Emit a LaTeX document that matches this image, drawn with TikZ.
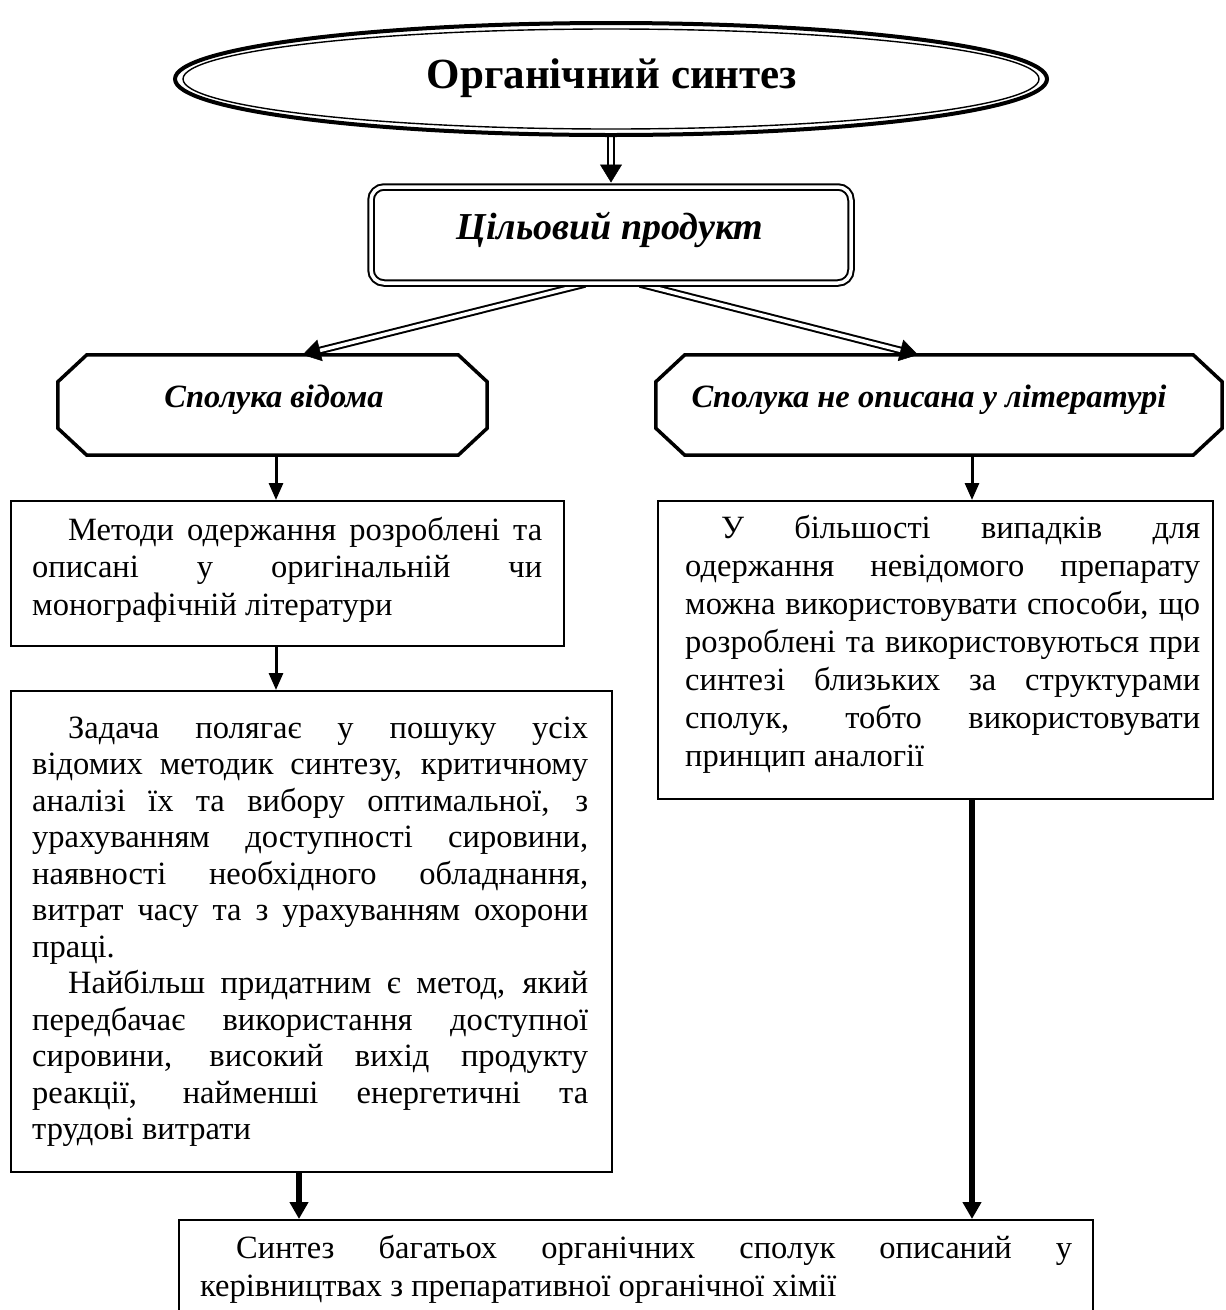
\documentclass[tikz,border=0pt]{standalone}
\usepackage{fontspec}
\setmainfont{Liberation Serif}
\usetikzlibrary{arrows.meta,calc,backgrounds,shapes.geometric}

\newcommand\bodyfont{\fontsize{32.5}{37.5}\selectfont}
% justified line and last (flush-left) line of a paragraph
\newcommand\jline[1]{\noindent\makebox[\linewidth][s]{\spaceskip=0pt\xspaceskip=0pt #1}\par}
\newcommand\lline[1]{\noindent{\spaceskip=0pt\xspaceskip=0pt #1}\par}
\newcommand\ind{\hspace*{36pt}}
% octagon drawn around a rectangular node
\newcommand\octagon[1]{%
  \draw[octline] ([xshift=29pt]#1.north west) -- ([xshift=-29pt]#1.north east)
    -- ([yshift=-27pt]#1.north east) -- ([yshift=27pt]#1.south east)
    -- ([xshift=-29pt]#1.south east) -- ([xshift=29pt]#1.south west)
    -- ([yshift=27pt]#1.south west) -- ([yshift=-27pt]#1.north west) -- cycle;}

\begin{document}
\begin{tikzpicture}[x=1pt,y=-1pt,
  box/.style={draw, line width=1.6pt, inner sep=0, anchor=north west},
  para/.style={inner sep=0, anchor=base west, font=\bodyfont},
  octline/.style={line width=3.5pt, line join=miter},
  octarea/.style={inner sep=0, minimum height=100},
  thinarrow/.style={line width=3pt, -{Triangle[length=17pt,width=14pt]}},
  thickarrow/.style={line width=6pt, -{Triangle[length=17pt,width=18pt]}},
  dblline/.style={double, line width=2pt, double distance=3.5pt},
  dbltip/.style={line width=0.5pt, -{Triangle[length=18pt,width=22pt]}},
]
\useasboundingbox (0,0) rectangle (1226,1310);

% title ellipse: thick outer line, thin inner line
\node[draw, ellipse, line width=4pt, minimum width=872, minimum height=112, inner sep=0] (title) at (611,79) {};
\draw[line width=1.4pt] (title.center) ellipse [x radius=428, y radius=50];
\node[anchor=base, inner sep=0, font=\fontsize{43}{50}\selectfont\bfseries] (titletext) at (612,88) {Органічний синтез};

% target product
\node[draw, dblline, rounded corners=13pt, minimum width=480, minimum height=96, inner sep=0] (goal) at (611,235) {};
\node[anchor=base, inner sep=0, font=\fontsize{38}{44}\selectfont\bfseries\itshape] (goaltext) at (610,239) {Цільовий продукт};

% two branches
\node[octarea, minimum width=429] (known) at (272.5,405) {};
\octagon{known}
\node[anchor=base, inner sep=0, font=\fontsize{32.5}{38}\selectfont\bfseries\itshape] (knowntext) at (274,407) {Сполука відома};

\node[octarea, minimum width=566] (unknown) at (939,405) {};
\octagon{unknown}
\node[anchor=base, inner sep=0, font=\fontsize{32.5}{38}\selectfont\bfseries\itshape] (unknowntext) at (929,407) {Сполука не описана у літературі};

% text boxes
\node[box, minimum width=553, minimum height=145] (methods) at (10,500) {};
\node[para, text width=510] (methodstext) at (32,540) {%
  \jline{\ind Методи одержання розроблені та}%
  \jline{описані у оригінальній чи}%
  \lline{монографічній літератури}};

\node[box, minimum width=601, minimum height=481] (task) at (10,690) {};
\node[para, text width=556, font=\fontsize{32.5}{36.5}\selectfont] (tasktext) at (32,738) {%
  \jline{\ind Задача полягає у пошуку усіх}%
  \jline{відомих методик синтезу, критичному}%
  \jline{аналізі їх та вибору оптимальної, з}%
  \jline{урахуванням доступності сировини,}%
  \jline{наявності необхідного обладнання,}%
  \jline{витрат часу та з урахуванням охорони}%
  \lline{праці.}%
  \jline{\ind Найбільш придатним є метод, який}%
  \jline{передбачає використання доступної}%
  \jline{сировини, високий вихід продукту}%
  \jline{реакції, найменші енергетичні та}%
  \lline{трудові витрати}};

\node[box, minimum width=555, minimum height=298] (analog) at (657,500) {};
\node[para, text width=515, font=\fontsize{32.5}{38}\selectfont] (analogtext) at (685,538) {%
  \jline{\ind У більшості випадків для}%
  \jline{одержання невідомого препарату}%
  \jline{можна використовувати способи, що}%
  \jline{розроблені та використовуються при}%
  \jline{синтезі близьких за структурами}%
  \jline{сполук, тобто використовувати}%
  \lline{принцип аналогії}};

\node[box, minimum width=914, minimum height=130] (synth) at (178,1219) {};
\node[para, text width=872, font=\fontsize{32.5}{38}\selectfont] (synthtext) at (200,1258) {%
  \jline{\ind Синтез багатьох органічних сполук описаний у}%
  \lline{керівництвах з препаративної органічної хімії}};

% connectors
\coordinate (lx) at (276,0);
\coordinate (bx) at (299,0);
\coordinate (rx) at (972,0);
\coordinate (gl) at ([xshift=-26pt]goal.south);
\coordinate (gr) at ([xshift=29pt]goal.south);
\coordinate (kt) at ([xshift=30pt]known.north);
\coordinate (ut) at ([xshift=-21pt]unknown.north);
\coordinate (gt) at ([yshift=3.5pt]goal.north);
\begin{scope}[on background layer]
  \draw[dblline, shorten >=16pt] (title.south) -- (gt);
  \draw[dbltip] ($(gt)!18pt!(title.south)$) -- (gt);
  \draw[dblline, shorten >=16pt] (gl) -- (kt);
  \draw[dbltip] ($(kt)!18pt!(gl)$) -- (kt);
  \draw[dblline, shorten >=16pt] (gr) -- (ut);
  \draw[dbltip] ($(ut)!18pt!(gr)$) -- (ut);
\end{scope}
\draw[thinarrow] (lx |- known.south) -- (lx |- methods.north);
\draw[thinarrow] (lx |- methods.south) -- (lx |- task.north);
\draw[thinarrow] (rx |- unknown.south) -- (rx |- analog.north);
\draw[thickarrow] (bx |- task.south) -- (bx |- synth.north);
\draw[thickarrow] (rx |- analog.south) -- (rx |- synth.north);
\end{tikzpicture}
\end{document}
